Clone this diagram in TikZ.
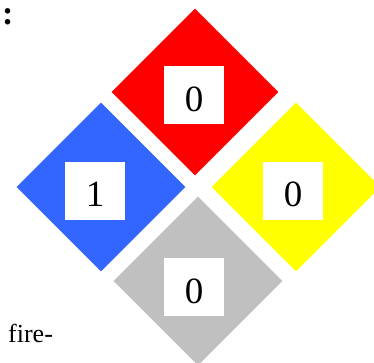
\documentclass[tikz,border=0pt]{standalone}
\usepackage{fontspec}
\setmainfont{Liberation Serif}
\usetikzlibrary{shapes.geometric}
\definecolor{nfpared}{HTML}{FF0000}
\definecolor{nfpablue}{HTML}{3366FF}
\definecolor{nfpayellow}{HTML}{FFFF00}
\definecolor{nfpagrey}{HTML}{C0C0C0}
\begin{document}
\begin{tikzpicture}[x=1pt,y=-1pt,
  diam/.style={diamond, draw=none, inner sep=0pt, minimum width=169pt, minimum height=169pt, aspect=1},
  numbox/.style={fill=white, draw=none, inner sep=0pt, minimum width=60pt, minimum height=58pt,
    font=\fontsize{37}{37}\selectfont, text height=32.6pt, text depth=0pt},
  txt/.style={inner sep=0pt, anchor=base west, font=\fontsize{26}{26}\selectfont}]
\useasboundingbox (0,0) rectangle (374,362);
\node[diam, fill=nfpared, minimum width=167pt, minimum height=167pt] (red) at (195,92) {};
\node[diam, fill=nfpablue] (blue) at (101,187) {};
\node[diam, fill=nfpayellow] (yellow) at (296,187) {};
\node[diam, fill=nfpagrey] (grey) at (198,281) {};
\node[numbox] (redn) at (194,95) {0};
\node[numbox] (bluen) at (95,190.5) {1};
\node[numbox] (yellown) at (293,190.5) {0};
\node[numbox] (greyn) at (194,287) {0};
\node[txt] (fire) at (8,342.3) {fire-};
\node[txt, font=\fontsize{34}{34}\selectfont\bfseries] (colon) at (2,24.5) {:};
\end{tikzpicture}
\end{document}
